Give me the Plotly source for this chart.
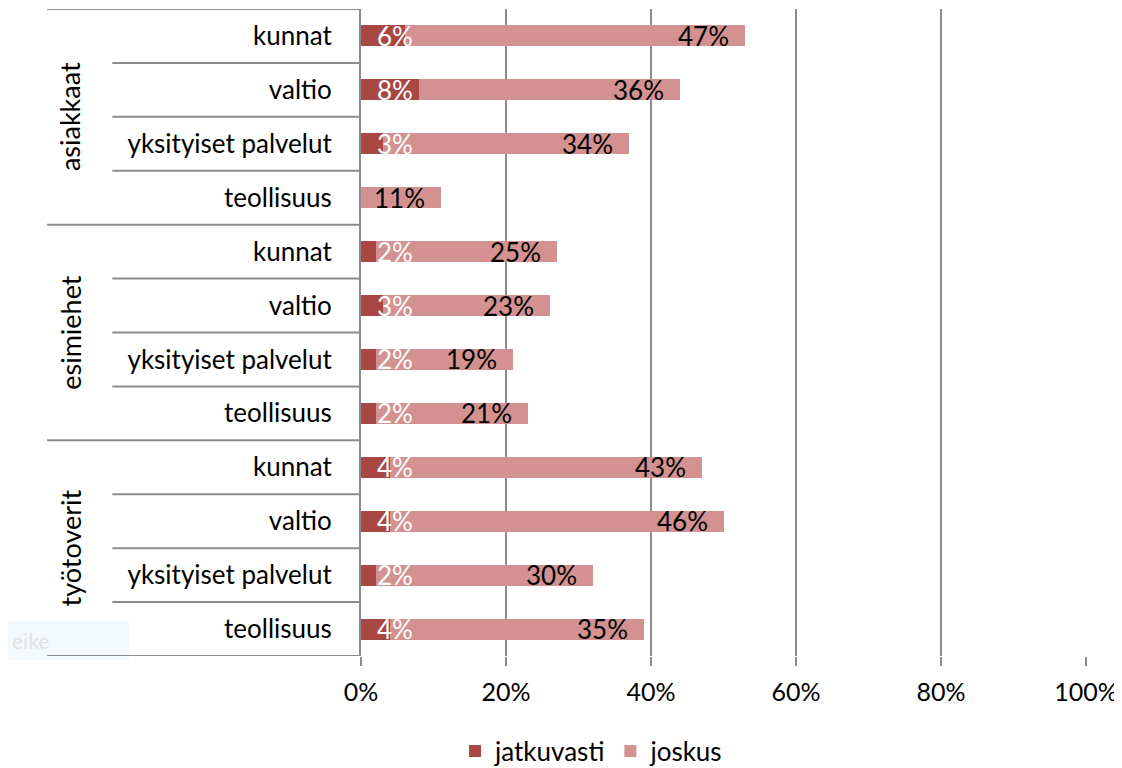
import plotly.graph_objects as go

groups = ["asiakkaat", "esimiehet", "työtoverit"]
subcats = ["kunnat", "valtio", "yksityiset palvelut", "teollisuus"]
jatkuvasti = [6, 8, 3, 0, 2, 3, 2, 2, 4, 4, 2, 4]
joskus = [47, 36, 34, 11, 25, 23, 19, 21, 43, 46, 30, 35]
x_ticks = [0, 20, 40, 60, 80, 100]

DARK = "#A94745"
LIGHT = "#D39291"
GRID = "#8C8C8C"
FONT = "Lato"
FS = 26

rows = [(g, s) for g in groups for s in subcats]
ypos = list(range(len(rows)))
labels = [s for g, s in rows]

fig = go.Figure()
fig.add_trace(go.Bar(y=ypos, x=jatkuvasti, orientation="h", name="jatkuvasti",
                     marker=dict(color=DARK, line=dict(width=0)), width=0.39,
                     hoverinfo="x+name"))
fig.add_trace(go.Bar(y=ypos, x=joskus, orientation="h", name="joskus",
                     marker=dict(color=LIGHT, line=dict(width=0)), width=0.39,
                     hoverinfo="x+name"))

annotations = []
for i, (a, b) in enumerate(zip(jatkuvasti, joskus)):
    if a:
        annotations.append(dict(x=0, y=i, xref="x", yref="y", text=f"{a}%", showarrow=False,
                                xanchor="left", xshift=14,
                                font=dict(family=FONT, size=FS, color="white")))
    annotations.append(dict(x=a + b, y=i, xref="x", yref="y", text=f"{b}%", showarrow=False,
                            xanchor="right", xshift=-14,
                            font=dict(family=FONT, size=FS, color="black")))

n_sub = len(subcats)
shapes = []
for k in range(len(rows) + 1):
    yk = k - 0.5
    is_group = (k % n_sub == 0)
    shapes.append(dict(type="line", xref="paper", yref="y",
                       x0=-0.433 if is_group else -0.343, x1=0, y0=yk, y1=yk,
                       line=dict(color=GRID, width=2)))
for gi, g in enumerate(groups):
    center = sum(ypos[gi * n_sub:(gi + 1) * n_sub]) / n_sub
    annotations.append(dict(x=-0.401, y=center, xref="paper", yref="y", text=g,
                            showarrow=False, textangle=-90, xanchor="center", yanchor="middle",
                            font=dict(family=FONT, size=FS + 1, color="black")))

# faint text box
shapes.append(dict(type="rect", xref="paper", yref="paper", x0=-0.487, x1=-0.32,
                   y0=-0.006, y1=0.054, fillcolor="#F4F9FD", line=dict(width=0), layer="below"))
annotations.append(dict(x=-0.484, y=0.024, xref="paper", yref="paper", text="eike",
                        showarrow=False, xanchor="left", yanchor="middle",
                        font=dict(family=FONT, size=21, color="#E2E2E2")))

fig.update_layout(
    barmode="stack",
    width=1114, height=760,
    margin=dict(l=353, r=36, t=1, b=112, autoexpand=False),
    plot_bgcolor="white", paper_bgcolor="white",
    font=dict(family=FONT, size=FS, color="black"),
    shapes=shapes, annotations=annotations,
    legend=dict(orientation="h", x=0.318, y=-0.147, xanchor="center", yanchor="middle",
                font=dict(family=FONT, size=FS), traceorder="normal",
                itemwidth=30),
    xaxis=dict(range=[0, 100], tickvals=x_ticks, ticktext=[f"{t}%" for t in x_ticks],
               showgrid=True, gridcolor=GRID, gridwidth=2, zeroline=False,
               ticks="outside", ticklen=9, tickcolor=GRID, tickwidth=2,
               showline=False, tickfont=dict(family=FONT, size=FS - 1),
               ticklabelstandoff=5, ticklabeloverflow="allow"),
    yaxis=dict(range=[len(rows) - 0.5, -0.5], tickvals=ypos, ticktext=labels,
               showgrid=False, zeroline=False, showline=True, linecolor=GRID, linewidth=2,
               ticks="outside", ticklen=22, tickcolor="rgba(0,0,0,0)",
               tickfont=dict(family=FONT, size=FS)),
)

fig.write_html("out.html")
